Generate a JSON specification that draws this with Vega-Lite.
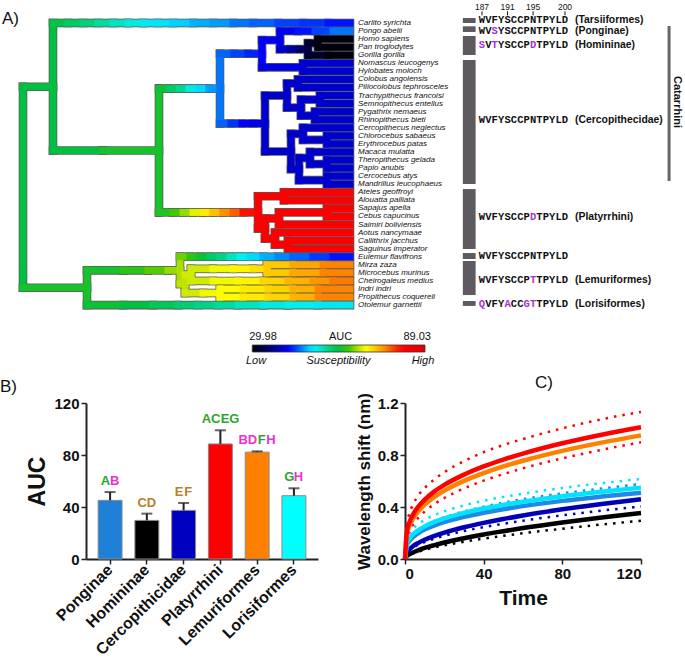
{
"$schema":"https://vega.github.io/schema/vega-lite/v6.json",
"padding":{"top":2,"left":0,"right":0,"bottom":0},
"background":"white",
"bounds":"flush",
"spacing":51,
"config":{"font":"Liberation Sans","view":{"stroke":null},"axis":{"labelFont":"Liberation Sans","titleFont":"Liberation Sans"},"title":{"font":"Liberation Sans"}},
"resolve":{"scale":{"stroke":"independent","fill":"independent","color":"independent"}},
"datasets":{
"tree":[
{"x":0,"x2":0,"y":7.91,"y2":32.84,"v":59.5},
{"x":0,"x2":30,"y":7.91,"y2":7.91,"v":59.5},
{"x":30,"x2":30,"y":0,"y2":15.82,"v":59.5},
{"x":30,"x2":45,"y":0,"y2":0,"v":58.9},
{"x":45,"x2":60,"y":0,"y2":0,"v":57.7},
{"x":60,"x2":75,"y":0,"y2":0,"v":56.6},
{"x":75,"x2":90,"y":0,"y2":0,"v":54.8},
{"x":90,"x2":105,"y":0,"y2":0,"v":53.6},
{"x":105,"x2":120,"y":0,"y2":0,"v":52.4},
{"x":120,"x2":135,"y":0,"y2":0,"v":51.2},
{"x":135,"x2":150,"y":0,"y2":0,"v":50.7},
{"x":150,"x2":170,"y":0,"y2":0,"v":49.5},
{"x":170,"x2":190,"y":0,"y2":0,"v":48.3},
{"x":190,"x2":210,"y":0,"y2":0,"v":47.7},
{"x":210,"x2":230,"y":0,"y2":0,"v":46.5},
{"x":230,"x2":255,"y":0,"y2":0,"v":45.9},
{"x":255,"x2":280,"y":0,"y2":0,"v":44.7},
{"x":280,"x2":305,"y":0,"y2":0,"v":44.2},
{"x":305,"x2":327,"y":0,"y2":0,"v":43.0,"sp":"Carlito syrichta"},
{"x":30,"x2":80,"y":15.82,"y2":15.82,"v":59.5},
{"x":80,"x2":136,"y":15.82,"y2":15.82,"v":60.7},
{"x":136,"x2":136,"y":8.14,"y2":23.5,"v":60.7},
{"x":136,"x2":146,"y":8.14,"y2":8.14,"v":60.1},
{"x":146,"x2":156,"y":8.14,"y2":8.14,"v":57.7},
{"x":156,"x2":166,"y":8.14,"y2":8.14,"v":55.4},
{"x":166,"x2":176,"y":8.14,"y2":8.14,"v":52.4},
{"x":176,"x2":186,"y":8.14,"y2":8.14,"v":50.1},
{"x":186,"x2":197,"y":8.14,"y2":8.14,"v":47.7},
{"x":197,"x2":197,"y":3.81,"y2":12.47,"v":46.5},
{"x":197,"x2":211,"y":3.81,"y2":3.81,"v":45.9},
{"x":211,"x2":225,"y":3.81,"y2":3.81,"v":44.7},
{"x":225,"x2":239,"y":3.81,"y2":3.81,"v":43.6},
{"x":239,"x2":239,"y":2.125,"y2":5.5,"v":42.4},
{"x":239,"x2":257,"y":2.125,"y2":2.125,"v":41.8},
{"x":257,"x2":257,"y":1,"y2":3.25,"v":41.2},
{"x":257,"x2":275,"y":1,"y2":1,"v":41.8},
{"x":275,"x2":292,"y":1,"y2":1,"v":43.0},
{"x":292,"x2":310,"y":1,"y2":1,"v":44.7},
{"x":310,"x2":327,"y":1,"y2":1,"v":46.5,"sp":"Pongo abelii"},
{"x":257,"x2":267,"y":3.25,"y2":3.25,"v":40.0},
{"x":267,"x2":276,"y":3.25,"y2":3.25,"v":37.7},
{"x":276,"x2":285,"y":3.25,"y2":3.25,"v":35.3},
{"x":285,"x2":285,"y":2.5,"y2":4,"v":33.5},
{"x":285,"x2":295,"y":2.5,"y2":2.5,"v":32.3},
{"x":295,"x2":295,"y":2,"y2":3,"v":31.2},
{"x":295,"x2":327,"y":2,"y2":2,"v":30.6,"sp":"Homo sapiens"},
{"x":295,"x2":327,"y":3,"y2":3,"v":30.6,"sp":"Pan troglodytes"},
{"x":285,"x2":305,"y":4,"y2":4,"v":32.3},
{"x":305,"x2":327,"y":4,"y2":4,"v":30.6,"sp":"Gorilla gorilla"},
{"x":239,"x2":280,"y":5.5,"y2":5.5,"v":41.2},
{"x":280,"x2":280,"y":5,"y2":6,"v":40.6},
{"x":280,"x2":327,"y":5,"y2":5,"v":40.3,"sp":"Nomascus leucogenys"},
{"x":280,"x2":327,"y":6,"y2":6,"v":40.3,"sp":"Hylobates moloch"},
{"x":197,"x2":208,"y":12.47,"y2":12.47,"v":45.9},
{"x":208,"x2":219,"y":12.47,"y2":12.47,"v":44.2},
{"x":219,"x2":230,"y":12.47,"y2":12.47,"v":42.4},
{"x":230,"x2":242,"y":12.47,"y2":12.47,"v":41.2},
{"x":242,"x2":242,"y":9,"y2":15.94,"v":40},
{"x":242,"x2":264,"y":9,"y2":9,"v":40},
{"x":264,"x2":264,"y":7.5,"y2":10.5,"v":40},
{"x":264,"x2":275,"y":7.5,"y2":7.5,"v":40},
{"x":275,"x2":275,"y":7,"y2":8,"v":40},
{"x":275,"x2":327,"y":7,"y2":7,"v":40,"sp":"Colobus angolensis"},
{"x":275,"x2":327,"y":8,"y2":8,"v":40,"sp":"Piliocolobus tephrosceles"},
{"x":264,"x2":278,"y":10.5,"y2":10.5,"v":40},
{"x":278,"x2":278,"y":9.5,"y2":11.5,"v":40},
{"x":278,"x2":297,"y":9.5,"y2":9.5,"v":40},
{"x":297,"x2":297,"y":9,"y2":10,"v":40},
{"x":297,"x2":327,"y":9,"y2":9,"v":40,"sp":"Trachypithecus francoisi"},
{"x":297,"x2":327,"y":10,"y2":10,"v":40,"sp":"Semnopithecus entellus"},
{"x":278,"x2":292,"y":11.5,"y2":11.5,"v":40},
{"x":292,"x2":292,"y":11,"y2":12,"v":40},
{"x":292,"x2":327,"y":11,"y2":11,"v":40,"sp":"Pygathrix nemaeus"},
{"x":292,"x2":327,"y":12,"y2":12,"v":40,"sp":"Rhinopithecus bieti"},
{"x":242,"x2":268,"y":15.94,"y2":15.94,"v":40},
{"x":268,"x2":268,"y":13.75,"y2":18.125,"v":40},
{"x":268,"x2":280,"y":13.75,"y2":13.75,"v":40},
{"x":280,"x2":280,"y":13,"y2":14.5,"v":40},
{"x":280,"x2":327,"y":13,"y2":13,"v":40,"sp":"Cercopithecus neglectus"},
{"x":280,"x2":304,"y":14.5,"y2":14.5,"v":40},
{"x":304,"x2":304,"y":14,"y2":15,"v":40},
{"x":304,"x2":327,"y":14,"y2":14,"v":40,"sp":"Chlorocebus sabaeus"},
{"x":304,"x2":327,"y":15,"y2":15,"v":40,"sp":"Erythrocebus patas"},
{"x":268,"x2":276,"y":18.125,"y2":18.125,"v":40},
{"x":276,"x2":276,"y":16.75,"y2":19.5,"v":40},
{"x":276,"x2":287,"y":16.75,"y2":16.75,"v":40},
{"x":287,"x2":287,"y":16,"y2":17.5,"v":40},
{"x":287,"x2":327,"y":16,"y2":16,"v":40,"sp":"Macaca mulatta"},
{"x":287,"x2":304,"y":17.5,"y2":17.5,"v":40},
{"x":304,"x2":304,"y":17,"y2":18,"v":40},
{"x":304,"x2":327,"y":17,"y2":17,"v":40,"sp":"Theropithecus gelada"},
{"x":304,"x2":327,"y":18,"y2":18,"v":40,"sp":"Papio anubis"},
{"x":276,"x2":304,"y":19.5,"y2":19.5,"v":40},
{"x":304,"x2":304,"y":19,"y2":20,"v":40},
{"x":304,"x2":327,"y":19,"y2":19,"v":40,"sp":"Cercocebus atys"},
{"x":304,"x2":327,"y":20,"y2":20,"v":40,"sp":"Mandrillus leucophaeus"},
{"x":136,"x2":150,"y":23.5,"y2":23.5,"v":61.3},
{"x":150,"x2":160,"y":23.5,"y2":23.5,"v":63.1},
{"x":160,"x2":170,"y":23.5,"y2":23.5,"v":65.4},
{"x":170,"x2":180,"y":23.5,"y2":23.5,"v":67.8},
{"x":180,"x2":190,"y":23.5,"y2":23.5,"v":70.1},
{"x":190,"x2":200,"y":23.5,"y2":23.5,"v":72.5},
{"x":200,"x2":210,"y":23.5,"y2":23.5,"v":74.9},
{"x":210,"x2":220,"y":23.5,"y2":23.5,"v":77.2},
{"x":220,"x2":235,"y":23.5,"y2":23.5,"v":80.8},
{"x":235,"x2":235,"y":21.5,"y2":25.5,"v":83},
{"x":235,"x2":261,"y":21.5,"y2":21.5,"v":83},
{"x":261,"x2":261,"y":21,"y2":22,"v":83},
{"x":261,"x2":327,"y":21,"y2":21,"v":83,"sp":"Ateles geoffroyi"},
{"x":261,"x2":327,"y":22,"y2":22,"v":83,"sp":"Alouatta palliata"},
{"x":235,"x2":242,"y":25.5,"y2":25.5,"v":83},
{"x":242,"x2":242,"y":24.25,"y2":26.75,"v":83},
{"x":242,"x2":256,"y":24.25,"y2":24.25,"v":83},
{"x":256,"x2":256,"y":23.5,"y2":25,"v":83},
{"x":256,"x2":304,"y":23.5,"y2":23.5,"v":83},
{"x":304,"x2":304,"y":23,"y2":24,"v":83},
{"x":304,"x2":327,"y":23,"y2":23,"v":83,"sp":"Sapajus apella"},
{"x":304,"x2":327,"y":24,"y2":24,"v":83,"sp":"Cebus capucinus"},
{"x":256,"x2":327,"y":25,"y2":25,"v":83,"sp":"Saimiri boliviensis"},
{"x":242,"x2":252,"y":26.75,"y2":26.75,"v":83},
{"x":252,"x2":252,"y":26,"y2":27.5,"v":83},
{"x":252,"x2":327,"y":26,"y2":26,"v":83,"sp":"Aotus nancymaae"},
{"x":252,"x2":265,"y":27.5,"y2":27.5,"v":83},
{"x":265,"x2":265,"y":27,"y2":28,"v":83},
{"x":265,"x2":327,"y":27,"y2":27,"v":83,"sp":"Callithrix jacchus"},
{"x":265,"x2":327,"y":28,"y2":28,"v":83,"sp":"Saguinus imperator"},
{"x":0,"x2":64,"y":32.84,"y2":32.84,"v":60.7},
{"x":64,"x2":64,"y":30.69,"y2":35,"v":60.7},
{"x":64,"x2":100,"y":35,"y2":35,"v":60.1},
{"x":100,"x2":130,"y":35,"y2":35,"v":59.5},
{"x":130,"x2":155,"y":35,"y2":35,"v":58.3},
{"x":155,"x2":175,"y":35,"y2":35,"v":57.1},
{"x":175,"x2":195,"y":35,"y2":35,"v":56.0},
{"x":195,"x2":215,"y":35,"y2":35,"v":54.8},
{"x":215,"x2":240,"y":35,"y2":35,"v":53.6},
{"x":240,"x2":265,"y":35,"y2":35,"v":52.4},
{"x":265,"x2":295,"y":35,"y2":35,"v":51.8},
{"x":295,"x2":327,"y":35,"y2":35,"v":51.2,"sp":"Otolemur garnettii"},
{"x":64,"x2":100,"y":30.69,"y2":30.69,"v":60.7},
{"x":100,"x2":125,"y":30.69,"y2":30.69,"v":61.9},
{"x":125,"x2":145,"y":30.69,"y2":30.69,"v":63.6},
{"x":145,"x2":157,"y":30.69,"y2":30.69,"v":65.4},
{"x":157,"x2":157,"y":29,"y2":32.375,"v":66.0},
{"x":157,"x2":167,"y":29,"y2":29,"v":64.2},
{"x":167,"x2":177,"y":29,"y2":29,"v":61.9},
{"x":177,"x2":187,"y":29,"y2":29,"v":60.1},
{"x":187,"x2":197,"y":29,"y2":29,"v":57.7},
{"x":197,"x2":207,"y":29,"y2":29,"v":56.0},
{"x":207,"x2":217,"y":29,"y2":29,"v":53.6},
{"x":217,"x2":227,"y":29,"y2":29,"v":51.8},
{"x":227,"x2":240,"y":29,"y2":29,"v":50.1},
{"x":240,"x2":255,"y":29,"y2":29,"v":48.3},
{"x":255,"x2":270,"y":29,"y2":29,"v":47.1},
{"x":270,"x2":290,"y":29,"y2":29,"v":45.9},
{"x":290,"x2":310,"y":29,"y2":29,"v":44.4},
{"x":310,"x2":327,"y":29,"y2":29,"v":43.0,"sp":"Eulemur flavifrons"},
{"x":157,"x2":162,"y":32.375,"y2":32.375,"v":66.6},
{"x":162,"x2":162,"y":31.25,"y2":33.5,"v":66.6},
{"x":162,"x2":168,"y":31.25,"y2":31.25,"v":67.2},
{"x":168,"x2":168,"y":30.5,"y2":32,"v":67.2},
{"x":168,"x2":190,"y":30.5,"y2":30.5,"v":67.2},
{"x":190,"x2":210,"y":30.5,"y2":30.5,"v":68.4},
{"x":210,"x2":230,"y":30.5,"y2":30.5,"v":69.5},
{"x":230,"x2":244,"y":30.5,"y2":30.5,"v":70.7},
{"x":244,"x2":244,"y":30,"y2":31,"v":71.3},
{"x":244,"x2":270,"y":30,"y2":30,"v":71.9},
{"x":270,"x2":300,"y":30,"y2":30,"v":73.7},
{"x":300,"x2":327,"y":30,"y2":30,"v":75.5,"sp":"Mirza zaza"},
{"x":244,"x2":270,"y":31,"y2":31,"v":71.9},
{"x":270,"x2":300,"y":31,"y2":31,"v":73.7},
{"x":300,"x2":327,"y":31,"y2":31,"v":75.5,"sp":"Microcebus murinus"},
{"x":168,"x2":190,"y":32,"y2":32,"v":67.2},
{"x":190,"x2":215,"y":32,"y2":32,"v":68.4},
{"x":215,"x2":240,"y":32,"y2":32,"v":69.5},
{"x":240,"x2":265,"y":32,"y2":32,"v":71.3},
{"x":265,"x2":290,"y":32,"y2":32,"v":73.1},
{"x":290,"x2":310,"y":32,"y2":32,"v":74.6},
{"x":310,"x2":327,"y":32,"y2":32,"v":76.0,"sp":"Cheirogaleus medius"},
{"x":162,"x2":180,"y":33.5,"y2":33.5,"v":67.2},
{"x":180,"x2":197,"y":33.5,"y2":33.5,"v":68.4},
{"x":197,"x2":197,"y":33,"y2":34,"v":69.0},
{"x":197,"x2":220,"y":33,"y2":33,"v":69.0},
{"x":220,"x2":245,"y":33,"y2":33,"v":70.1},
{"x":245,"x2":270,"y":33,"y2":33,"v":71.3},
{"x":270,"x2":295,"y":33,"y2":33,"v":73.1},
{"x":295,"x2":327,"y":33,"y2":33,"v":75.5,"sp":"Indri indri"},
{"x":197,"x2":220,"y":34,"y2":34,"v":69.0},
{"x":220,"x2":245,"y":34,"y2":34,"v":70.1},
{"x":245,"x2":270,"y":34,"y2":34,"v":71.3},
{"x":270,"x2":295,"y":34,"y2":34,"v":73.1},
{"x":295,"x2":327,"y":34,"y2":34,"v":75.5,"sp":"Propithecus coquereli"}
],
"clades":[
{"r1":-0.62,"r2":0.0,"r":-0.33,"lab":"(Tarsiiformes)"},
{"r1":0.41,"r2":1.12,"r":0.99,"lab":"(Ponginae)"},
{"r1":1.61,"r2":3.97,"r":2.73,"lab":"(Homininae)"},
{"r1":4.59,"r2":19.98,"r":12.03,"lab":"(Cercopithecidae)"},
{"r1":20.6,"r2":28.04,"r":24.07,"lab":"(Platyrrhini)"},
{"r1":28.54,"r2":29.28,"r":28.9,"lab":""},
{"r1":29.53,"r2":33.75,"r":31.9,"lab":"(Lemuriformes)"},
{"r1":34.49,"r2":35.1,"r":34.86,"lab":"(Lorisiformes)"}
],
"seq":[
{"r":-0.33,"p":187,"a":"W"},{"r":-0.33,"p":188,"a":"V"},{"r":-0.33,"p":189,"a":"F"},{"r":-0.33,"p":190,"a":"Y"},{"r":-0.33,"p":191,"a":"S"},{"r":-0.33,"p":192,"a":"C"},{"r":-0.33,"p":193,"a":"C"},{"r":-0.33,"p":194,"a":"P"},{"r":-0.33,"p":195,"a":"N"},{"r":-0.33,"p":196,"a":"T"},{"r":-0.33,"p":197,"a":"P"},{"r":-0.33,"p":198,"a":"Y"},{"r":-0.33,"p":199,"a":"L"},{"r":-0.33,"p":200,"a":"D"},
{"r":0.99,"p":187,"a":"W"},{"r":0.99,"p":188,"a":"V"},{"r":0.99,"p":189,"a":"S","m":1},{"r":0.99,"p":190,"a":"Y"},{"r":0.99,"p":191,"a":"S"},{"r":0.99,"p":192,"a":"C"},{"r":0.99,"p":193,"a":"C"},{"r":0.99,"p":194,"a":"P"},{"r":0.99,"p":195,"a":"N"},{"r":0.99,"p":196,"a":"T"},{"r":0.99,"p":197,"a":"P"},{"r":0.99,"p":198,"a":"Y"},{"r":0.99,"p":199,"a":"L"},{"r":0.99,"p":200,"a":"D"},
{"r":2.73,"p":187,"a":"S","m":1},{"r":2.73,"p":188,"a":"V"},{"r":2.73,"p":189,"a":"T","m":1},{"r":2.73,"p":190,"a":"Y"},{"r":2.73,"p":191,"a":"S"},{"r":2.73,"p":192,"a":"C"},{"r":2.73,"p":193,"a":"C"},{"r":2.73,"p":194,"a":"P"},{"r":2.73,"p":195,"a":"D","m":1},{"r":2.73,"p":196,"a":"T"},{"r":2.73,"p":197,"a":"P"},{"r":2.73,"p":198,"a":"Y"},{"r":2.73,"p":199,"a":"L"},{"r":2.73,"p":200,"a":"D"},
{"r":12.03,"p":187,"a":"W"},{"r":12.03,"p":188,"a":"V"},{"r":12.03,"p":189,"a":"F"},{"r":12.03,"p":190,"a":"Y"},{"r":12.03,"p":191,"a":"S"},{"r":12.03,"p":192,"a":"C"},{"r":12.03,"p":193,"a":"C"},{"r":12.03,"p":194,"a":"P"},{"r":12.03,"p":195,"a":"N"},{"r":12.03,"p":196,"a":"T"},{"r":12.03,"p":197,"a":"P"},{"r":12.03,"p":198,"a":"Y"},{"r":12.03,"p":199,"a":"L"},{"r":12.03,"p":200,"a":"D"},
{"r":24.07,"p":187,"a":"W"},{"r":24.07,"p":188,"a":"V"},{"r":24.07,"p":189,"a":"F"},{"r":24.07,"p":190,"a":"Y"},{"r":24.07,"p":191,"a":"S"},{"r":24.07,"p":192,"a":"C"},{"r":24.07,"p":193,"a":"C"},{"r":24.07,"p":194,"a":"P"},{"r":24.07,"p":195,"a":"D","m":1},{"r":24.07,"p":196,"a":"T"},{"r":24.07,"p":197,"a":"P"},{"r":24.07,"p":198,"a":"Y"},{"r":24.07,"p":199,"a":"L"},{"r":24.07,"p":200,"a":"D"},
{"r":28.9,"p":187,"a":"W"},{"r":28.9,"p":188,"a":"V"},{"r":28.9,"p":189,"a":"F"},{"r":28.9,"p":190,"a":"Y"},{"r":28.9,"p":191,"a":"S"},{"r":28.9,"p":192,"a":"C"},{"r":28.9,"p":193,"a":"C"},{"r":28.9,"p":194,"a":"P"},{"r":28.9,"p":195,"a":"N"},{"r":28.9,"p":196,"a":"T"},{"r":28.9,"p":197,"a":"P"},{"r":28.9,"p":198,"a":"Y"},{"r":28.9,"p":199,"a":"L"},{"r":28.9,"p":200,"a":"D"},
{"r":31.9,"p":187,"a":"W"},{"r":31.9,"p":188,"a":"V"},{"r":31.9,"p":189,"a":"F"},{"r":31.9,"p":190,"a":"Y"},{"r":31.9,"p":191,"a":"S"},{"r":31.9,"p":192,"a":"C"},{"r":31.9,"p":193,"a":"C"},{"r":31.9,"p":194,"a":"P"},{"r":31.9,"p":195,"a":"T","m":1},{"r":31.9,"p":196,"a":"T"},{"r":31.9,"p":197,"a":"P"},{"r":31.9,"p":198,"a":"Y"},{"r":31.9,"p":199,"a":"L"},{"r":31.9,"p":200,"a":"D"},
{"r":34.86,"p":187,"a":"Q","m":1},{"r":34.86,"p":188,"a":"V"},{"r":34.86,"p":189,"a":"F"},{"r":34.86,"p":190,"a":"Y"},{"r":34.86,"p":191,"a":"A","m":1},{"r":34.86,"p":192,"a":"C"},{"r":34.86,"p":193,"a":"C"},{"r":34.86,"p":194,"a":"G","m":1},{"r":34.86,"p":195,"a":"T","m":1},{"r":34.86,"p":196,"a":"T"},{"r":34.86,"p":197,"a":"P"},{"r":34.86,"p":198,"a":"Y"},{"r":34.86,"p":199,"a":"L"},{"r":34.86,"p":200,"a":"D"}
],
"ticks":[{"p":187},{"p":191},{"p":195},{"p":200}],
"bars":[
{"g":"Ponginae","mean":45.1,"up":51.5},
{"g":"Homininae","mean":29.7,"up":34.9},
{"g":"Cercopithicidae","mean":37.4,"up":43.1},
{"g":"Platyrrhini","mean":88.5,"up":99.0},
{"g":"Lemuriformes","mean":82.2,"up":82.8},
{"g":"Lorisiformes","mean":48.7,"up":54.4}
],
"letters":[
{"g":"Ponginae","c":"A","j":-1,"s":"g"},{"g":"Ponginae","c":"B","j":1,"s":"m"},
{"g":"Homininae","c":"C","j":-1,"s":"b"},{"g":"Homininae","c":"D","j":1,"s":"b"},
{"g":"Cercopithicidae","c":"E","j":-1,"s":"b"},{"g":"Cercopithicidae","c":"F","j":1,"s":"b"},
{"g":"Platyrrhini","c":"A","j":-3,"s":"g"},{"g":"Platyrrhini","c":"C","j":-1,"s":"g"},{"g":"Platyrrhini","c":"E","j":1,"s":"g"},{"g":"Platyrrhini","c":"G","j":3,"s":"g"},
{"g":"Lemuriformes","c":"B","j":-3,"s":"m"},{"g":"Lemuriformes","c":"D","j":-1,"s":"m"},{"g":"Lemuriformes","c":"F","j":1,"s":"g"},{"g":"Lemuriformes","c":"H","j":3,"s":"m"},
{"g":"Lorisiformes","c":"G","j":-1,"s":"g"},{"g":"Lorisiformes","c":"H","j":1,"s":"m"}
],
"curves":[
{"s":"Homininae","t":0,"v":0},{"s":"Homininae","t":1,"v":0.023},{"s":"Homininae","t":2,"v":0.034},{"s":"Homininae","t":4,"v":0.05},{"s":"Homininae","t":7,"v":0.069},{"s":"Homininae","t":10,"v":0.085},{"s":"Homininae","t":15,"v":0.107},{"s":"Homininae","t":20,"v":0.127},{"s":"Homininae","t":30,"v":0.16},{"s":"Homininae","t":40,"v":0.189},{"s":"Homininae","t":50,"v":0.214},{"s":"Homininae","t":60,"v":0.238},{"s":"Homininae","t":80,"v":0.281},{"s":"Homininae","t":100,"v":0.319},{"s":"Homininae","t":120,"v":0.354},
{"s":"Cercopithecidae","t":0,"v":0},{"s":"Cercopithecidae","t":1,"v":0.052},{"s":"Cercopithecidae","t":2,"v":0.071},{"s":"Cercopithecidae","t":4,"v":0.098},{"s":"Cercopithecidae","t":7,"v":0.126},{"s":"Cercopithecidae","t":10,"v":0.148},{"s":"Cercopithecidae","t":15,"v":0.178},{"s":"Cercopithecidae","t":20,"v":0.203},{"s":"Cercopithecidae","t":30,"v":0.244},{"s":"Cercopithecidae","t":40,"v":0.278},{"s":"Cercopithecidae","t":50,"v":0.308},{"s":"Cercopithecidae","t":60,"v":0.335},{"s":"Cercopithecidae","t":80,"v":0.382},{"s":"Cercopithecidae","t":100,"v":0.423},{"s":"Cercopithecidae","t":120,"v":0.459},
{"s":"Ponginae","t":0,"v":0},{"s":"Ponginae","t":1,"v":0.107},{"s":"Ponginae","t":2,"v":0.134},{"s":"Ponginae","t":4,"v":0.168},{"s":"Ponginae","t":7,"v":0.202},{"s":"Ponginae","t":10,"v":0.227},{"s":"Ponginae","t":15,"v":0.259},{"s":"Ponginae","t":20,"v":0.284},{"s":"Ponginae","t":30,"v":0.324},{"s":"Ponginae","t":40,"v":0.356},{"s":"Ponginae","t":50,"v":0.383},{"s":"Ponginae","t":60,"v":0.407},{"s":"Ponginae","t":80,"v":0.447},{"s":"Ponginae","t":100,"v":0.48},{"s":"Ponginae","t":120,"v":0.51},
{"s":"Lorisiformes","t":0,"v":0},{"s":"Lorisiformes","t":1,"v":0.121},{"s":"Lorisiformes","t":2,"v":0.151},{"s":"Lorisiformes","t":4,"v":0.188},{"s":"Lorisiformes","t":7,"v":0.224},{"s":"Lorisiformes","t":10,"v":0.251},{"s":"Lorisiformes","t":15,"v":0.285},{"s":"Lorisiformes","t":20,"v":0.312},{"s":"Lorisiformes","t":30,"v":0.355},{"s":"Lorisiformes","t":40,"v":0.388},{"s":"Lorisiformes","t":50,"v":0.416},{"s":"Lorisiformes","t":60,"v":0.441},{"s":"Lorisiformes","t":80,"v":0.483},{"s":"Lorisiformes","t":100,"v":0.518},{"s":"Lorisiformes","t":120,"v":0.549},
{"s":"Lemuriformes","t":0,"v":0},{"s":"Lemuriformes","t":1,"v":0.195},{"s":"Lemuriformes","t":2,"v":0.245},{"s":"Lemuriformes","t":4,"v":0.308},{"s":"Lemuriformes","t":7,"v":0.371},{"s":"Lemuriformes","t":10,"v":0.418},{"s":"Lemuriformes","t":15,"v":0.478},{"s":"Lemuriformes","t":20,"v":0.526},{"s":"Lemuriformes","t":30,"v":0.601},{"s":"Lemuriformes","t":40,"v":0.661},{"s":"Lemuriformes","t":50,"v":0.712},{"s":"Lemuriformes","t":60,"v":0.756},{"s":"Lemuriformes","t":80,"v":0.832},{"s":"Lemuriformes","t":100,"v":0.895},{"s":"Lemuriformes","t":120,"v":0.951},
{"s":"Platyrrhini","t":0,"v":0},{"s":"Platyrrhini","t":1,"v":0.218},{"s":"Platyrrhini","t":2,"v":0.272},{"s":"Platyrrhini","t":4,"v":0.34},{"s":"Platyrrhini","t":7,"v":0.407},{"s":"Platyrrhini","t":10,"v":0.456},{"s":"Platyrrhini","t":15,"v":0.52},{"s":"Platyrrhini","t":20,"v":0.57},{"s":"Platyrrhini","t":30,"v":0.649},{"s":"Platyrrhini","t":40,"v":0.712},{"s":"Platyrrhini","t":50,"v":0.765},{"s":"Platyrrhini","t":60,"v":0.811},{"s":"Platyrrhini","t":80,"v":0.89},{"s":"Platyrrhini","t":100,"v":0.956},{"s":"Platyrrhini","t":120,"v":1.013}
],
"bands":[
{"s":"Homininae","b":"lo","t":0,"v":0},{"s":"Homininae","b":"lo","t":1,"v":0.019},{"s":"Homininae","b":"lo","t":2,"v":0.028},{"s":"Homininae","b":"lo","t":4,"v":0.042},{"s":"Homininae","b":"lo","t":7,"v":0.057},{"s":"Homininae","b":"lo","t":10,"v":0.071},{"s":"Homininae","b":"lo","t":15,"v":0.089},{"s":"Homininae","b":"lo","t":20,"v":0.105},{"s":"Homininae","b":"lo","t":30,"v":0.133},{"s":"Homininae","b":"lo","t":40,"v":0.157},{"s":"Homininae","b":"lo","t":50,"v":0.178},{"s":"Homininae","b":"lo","t":60,"v":0.198},{"s":"Homininae","b":"lo","t":80,"v":0.233},{"s":"Homininae","b":"lo","t":100,"v":0.265},{"s":"Homininae","b":"lo","t":120,"v":0.294},
{"s":"Cercopithecidae","b":"lo","t":0,"v":0},{"s":"Cercopithecidae","b":"lo","t":1,"v":0.046},{"s":"Cercopithecidae","b":"lo","t":2,"v":0.062},{"s":"Cercopithecidae","b":"lo","t":4,"v":0.086},{"s":"Cercopithecidae","b":"lo","t":7,"v":0.111},{"s":"Cercopithecidae","b":"lo","t":10,"v":0.13},{"s":"Cercopithecidae","b":"lo","t":15,"v":0.157},{"s":"Cercopithecidae","b":"lo","t":20,"v":0.179},{"s":"Cercopithecidae","b":"lo","t":30,"v":0.215},{"s":"Cercopithecidae","b":"lo","t":40,"v":0.245},{"s":"Cercopithecidae","b":"lo","t":50,"v":0.271},{"s":"Cercopithecidae","b":"lo","t":60,"v":0.295},{"s":"Cercopithecidae","b":"lo","t":80,"v":0.336},{"s":"Cercopithecidae","b":"lo","t":100,"v":0.372},{"s":"Cercopithecidae","b":"lo","t":120,"v":0.404},
{"s":"Ponginae","b":"hi","t":0,"v":0},{"s":"Ponginae","b":"hi","t":1,"v":0.121},{"s":"Ponginae","b":"hi","t":2,"v":0.151},{"s":"Ponginae","b":"hi","t":4,"v":0.19},{"s":"Ponginae","b":"hi","t":7,"v":0.228},{"s":"Ponginae","b":"hi","t":10,"v":0.257},{"s":"Ponginae","b":"hi","t":15,"v":0.293},{"s":"Ponginae","b":"hi","t":20,"v":0.321},{"s":"Ponginae","b":"hi","t":30,"v":0.366},{"s":"Ponginae","b":"hi","t":40,"v":0.402},{"s":"Ponginae","b":"hi","t":50,"v":0.433},{"s":"Ponginae","b":"hi","t":60,"v":0.46},{"s":"Ponginae","b":"hi","t":80,"v":0.505},{"s":"Ponginae","b":"hi","t":100,"v":0.542},{"s":"Ponginae","b":"hi","t":120,"v":0.577},
{"s":"Lorisiformes","b":"hi","t":0,"v":0},{"s":"Lorisiformes","b":"hi","t":1,"v":0.155},{"s":"Lorisiformes","b":"hi","t":2,"v":0.19},{"s":"Lorisiformes","b":"hi","t":4,"v":0.231},{"s":"Lorisiformes","b":"hi","t":7,"v":0.272},{"s":"Lorisiformes","b":"hi","t":10,"v":0.3},{"s":"Lorisiformes","b":"hi","t":15,"v":0.338},{"s":"Lorisiformes","b":"hi","t":20,"v":0.367},{"s":"Lorisiformes","b":"hi","t":30,"v":0.412},{"s":"Lorisiformes","b":"hi","t":40,"v":0.448},{"s":"Lorisiformes","b":"hi","t":50,"v":0.477},{"s":"Lorisiformes","b":"hi","t":60,"v":0.502},{"s":"Lorisiformes","b":"hi","t":80,"v":0.546},{"s":"Lorisiformes","b":"hi","t":100,"v":0.583},{"s":"Lorisiformes","b":"hi","t":120,"v":0.615},
{"s":"Platyrrhini","b":"lo","t":0,"v":0},{"s":"Platyrrhini","b":"lo","t":1,"v":0.159},{"s":"Platyrrhini","b":"lo","t":2,"v":0.204},{"s":"Platyrrhini","b":"lo","t":4,"v":0.262},{"s":"Platyrrhini","b":"lo","t":7,"v":0.321},{"s":"Platyrrhini","b":"lo","t":10,"v":0.365},{"s":"Platyrrhini","b":"lo","t":15,"v":0.423},{"s":"Platyrrhini","b":"lo","t":20,"v":0.469},{"s":"Platyrrhini","b":"lo","t":30,"v":0.543},{"s":"Platyrrhini","b":"lo","t":40,"v":0.603},{"s":"Platyrrhini","b":"lo","t":50,"v":0.653},{"s":"Platyrrhini","b":"lo","t":60,"v":0.698},{"s":"Platyrrhini","b":"lo","t":80,"v":0.774},{"s":"Platyrrhini","b":"lo","t":100,"v":0.84},{"s":"Platyrrhini","b":"lo","t":120,"v":0.898},
{"s":"Platyrrhini","b":"hi","t":0,"v":0},{"s":"Platyrrhini","b":"hi","t":1,"v":0.278},{"s":"Platyrrhini","b":"hi","t":2,"v":0.34},{"s":"Platyrrhini","b":"hi","t":4,"v":0.417},{"s":"Platyrrhini","b":"hi","t":7,"v":0.494},{"s":"Platyrrhini","b":"hi","t":10,"v":0.546},{"s":"Platyrrhini","b":"hi","t":15,"v":0.613},{"s":"Platyrrhini","b":"hi","t":20,"v":0.668},{"s":"Platyrrhini","b":"hi","t":30,"v":0.753},{"s":"Platyrrhini","b":"hi","t":40,"v":0.822},{"s":"Platyrrhini","b":"hi","t":50,"v":0.877},{"s":"Platyrrhini","b":"hi","t":60,"v":0.923},{"s":"Platyrrhini","b":"hi","t":80,"v":1.005},{"s":"Platyrrhini","b":"hi","t":100,"v":1.075},{"s":"Platyrrhini","b":"hi","t":120,"v":1.131}
]
},
"vconcat":[
{
"width":599,"height":291.5,
"title":{"text":"A)","anchor":"start","frame":"group","orient":"top","offset":0,"dx":-84,"dy":39,"fontSize":17,"fontWeight":"normal","baseline":"alphabetic","color":"#111"},
"resolve":{"scale":{"x":"independent"}},
"layer":[
{"data":{"name":"tree"},"mark":{"type":"rule","strokeWidth":8.6,"strokeCap":"square","color":"#5a5a5a"},
"encoding":{"x":{"field":"x","type":"quantitative","scale":{"domain":[63,662],"nice":false,"zero":false},"axis":null},"x2":{"field":"x2"},"y":{"field":"y","type":"quantitative","scale":{"domain":[-2.605,33.56],"reverse":true,"nice":false,"zero":false},"axis":null},"y2":{"field":"y2"}}},
{"data":{"name":"tree"},"mark":{"type":"rule","strokeWidth":7,"strokeCap":"square"},
"encoding":{"x":{"field":"x","type":"quantitative","scale":{"domain":[63,662],"nice":false,"zero":false},"axis":null},"x2":{"field":"x2"},"y":{"field":"y","type":"quantitative","scale":{"domain":[-2.605,33.56],"reverse":true,"nice":false,"zero":false},"axis":null},"y2":{"field":"y2"},
"stroke":{"field":"v","type":"quantitative","legend":null,"scale":{"type":"linear","domain":[29.98,34.11,38.84,42.38,45.92,49.47,51.83,55.37,59.51,63.05,66.59,68.95,72.5,76.04,79.58,81.94,89.03],"range":["#000000","#000050","#0000b4","#0000ff","#0064ff","#00d2ff","#00f0f0","#00d890","#00c040","#40c800","#c0e400","#ffff00","#ffbe00","#ff7800","#ff2000","#ff0000","#dc0000"],"interpolate":"rgb"}}}},
{"data":{"name":"tree"},"transform":[{"filter":"datum.sp"}],"mark":{"type":"text","align":"left","baseline":"middle","dx":8,"fontSize":8,"fontStyle":"italic","color":"#111"},
"encoding":{"x":{"field":"x2","type":"quantitative","scale":{"domain":[63,662],"nice":false,"zero":false},"axis":null},"y":{"field":"y","type":"quantitative","scale":{"domain":[-2.605,33.56],"reverse":true,"nice":false,"zero":false},"axis":null},"text":{"field":"sp"}}},
{"data":{"name":"clades"},"mark":{"type":"rect","color":"#5e5a60"},
"encoding":{"x":{"datum":184,"type":"quantitative","scale":{"domain":[124.98,218.795],"nice":false,"zero":false},"axis":null},"x2":{"datum":186},"y":{"field":"r1","type":"quantitative","scale":{"domain":[-2.605,33.56],"reverse":true,"nice":false,"zero":false},"axis":null},"y2":{"field":"r2"}}},
{"data":{"name":"seq"},"mark":{"type":"text","font":"Liberation Mono","fontWeight":"bold","fontSize":10.5,"align":"center","baseline":"middle"},
"encoding":{"x":{"field":"p","type":"quantitative","scale":{"domain":[124.98,218.795],"nice":false,"zero":false},"axis":null},"y":{"field":"r","type":"quantitative","scale":{"domain":[-2.605,33.56],"reverse":true,"nice":false,"zero":false},"axis":null},"text":{"field":"a"},
"color":{"condition":{"test":"datum.m","value":"#a334d6"},"value":"#111111"}}},
{"data":{"name":"clades"},"mark":{"type":"text","align":"left","baseline":"middle","dx":10,"fontSize":10.4,"fontWeight":"bold","color":"#111"},
"encoding":{"x":{"datum":200,"type":"quantitative","scale":{"domain":[124.98,218.795],"nice":false,"zero":false},"axis":null},"y":{"field":"r","type":"quantitative","scale":{"domain":[-2.605,33.56],"reverse":true,"nice":false,"zero":false},"axis":null},"text":{"field":"lab"}}},
{"data":{"name":"ticks"},"mark":{"type":"text","fontSize":8.5,"align":"center","baseline":"middle","color":"#111"},
"encoding":{"x":{"field":"p","type":"quantitative","scale":{"domain":[124.98,218.795],"nice":false,"zero":false},"axis":null},"y":{"datum":-1.99,"type":"quantitative","scale":{"domain":[-2.605,33.56],"reverse":true,"nice":false,"zero":false},"axis":null},"text":{"field":"p"}}},
{"data":{"name":"ticks"},"mark":{"type":"rule","strokeWidth":1,"color":"#111"},
"encoding":{"x":{"field":"p","type":"quantitative","scale":{"domain":[124.98,218.795],"nice":false,"zero":false},"axis":null},"y":{"datum":-1.45,"type":"quantitative","scale":{"domain":[-2.605,33.56],"reverse":true,"nice":false,"zero":false},"axis":null},"y2":{"datum":-0.95}}},
{"data":{"values":[{"g":"Catarrhini"}]},"mark":{"type":"rule","strokeWidth":3,"color":"#666"},
"encoding":{"x":{"datum":216.3,"type":"quantitative","scale":{"domain":[124.98,218.795],"nice":false,"zero":false},"axis":null},"y":{"datum":0.37,"type":"quantitative","scale":{"domain":[-2.605,33.56],"reverse":true,"nice":false,"zero":false},"axis":null},"y2":{"datum":19.6}}},
{"data":{"values":[{"g":"Catarrhini"}]},"mark":{"type":"text","angle":90,"fontSize":11,"fontWeight":"bold","align":"center","baseline":"middle","color":"#111"},
"encoding":{"x":{"datum":217.6,"type":"quantitative","scale":{"domain":[124.98,218.795],"nice":false,"zero":false},"axis":null},"y":{"datum":9.8,"type":"quantitative","scale":{"domain":[-2.605,33.56],"reverse":true,"nice":false,"zero":false},"axis":null},"text":{"field":"g"}}}
]
},
{
"width":599,"height":7,
"data":{"values":[{"lo":29.98,"hi":89.03}]},
"resolve":{"axis":{"x":"independent"}},
"layer":[
{"mark":{"type":"rect","stroke":"#333","strokeWidth":0.8,"fill":{"gradient":"linear","x1":0,"x2":1,"y1":0,"y2":0,"stops":[{"offset":0,"color":"#000000"},{"offset":0.07,"color":"#000050"},{"offset":0.15,"color":"#0000b4"},{"offset":0.21,"color":"#0000ff"},{"offset":0.27,"color":"#0064ff"},{"offset":0.33,"color":"#00d2ff"},{"offset":0.37,"color":"#00f0f0"},{"offset":0.43,"color":"#00d890"},{"offset":0.5,"color":"#00c040"},{"offset":0.56,"color":"#40c800"},{"offset":0.62,"color":"#c0e400"},{"offset":0.66,"color":"#ffff00"},{"offset":0.72,"color":"#ffbe00"},{"offset":0.78,"color":"#ff7800"},{"offset":0.84,"color":"#ff2000"},{"offset":0.88,"color":"#ff0000"},{"offset":1,"color":"#dc0000"}]}},
"encoding":{"x":{"field":"lo","type":"quantitative","scale":{"domain":[-26.88,177.93],"nice":false,"zero":false},
"axis":{"orient":"top","values":[33.47,59.97,86.19],"labelExpr":"datum.value < 40 ? '29.98' : (datum.value > 80 ? '89.03' : 'AUC')","ticks":false,"domain":false,"grid":false,"title":null,"labelPadding":4,"labelFontSize":11,"labelColor":"#111","labelFlush":false,"labelOverlap":false,"labelBound":false}},
"x2":{"field":"hi"},
"y":{"datum":0,"type":"quantitative","scale":{"domain":[0,1],"nice":false,"zero":false},"axis":null},"y2":{"datum":1}}},
{"mark":{"type":"rect","opacity":0},
"encoding":{"x":{"field":"lo","type":"quantitative","scale":{"domain":[-26.88,177.93],"nice":false,"zero":false},
"axis":{"orient":"bottom","values":[31.07,59.28,88.17],"labelExpr":"datum.value < 40 ? 'Low' : (datum.value > 80 ? 'High' : 'Susceptibility')","labelFontStyle":"italic","ticks":false,"domain":false,"grid":false,"title":null,"labelPadding":2,"labelFontSize":11,"labelColor":"#111","labelFlush":false,"labelOverlap":false,"labelBound":false}},
"x2":{"field":"hi"},
"y":{"datum":0,"type":"quantitative","scale":{"domain":[0,1],"nice":false,"zero":false},"axis":null},"y2":{"datum":1}}}
]
},
{
"hconcat":[
{
"width":232,"height":156,
"title":{"text":"B)","anchor":"start","frame":"group","dx":-86,"dy":22.5,"offset":10,"fontSize":17,"fontWeight":"normal","baseline":"alphabetic","color":"#111"},
"layer":[
{"data":{"name":"bars"},"mark":{"type":"bar","stroke":"#8a8a8a","strokeWidth":1},
"encoding":{"x":{"field":"g","type":"nominal","sort":null,"scale":{"domain":["Ponginae","Homininae","Cercopithicidae","Platyrrhini","Lemuriformes","Lorisiformes"],"paddingInner":0.35,"paddingOuter":0.33},
"axis":{"title":null,"labelAngle":-45,"labelAlign":"right","labelBaseline":"middle","labelFontSize":16,"labelFontWeight":"bold","labelColor":"#111","tickSize":5,"tickWidth":1.5,"tickColor":"#222","domainColor":"#222","domainWidth":2,"labelPadding":3}},
"y":{"field":"mean","type":"quantitative","scale":{"domain":[0,120],"nice":false},
"axis":{"title":"AUC","values":[0,40,80,120],"titleFontSize":23,"titleFontWeight":"bold","titleColor":"#111","titlePadding":4,"labelFontSize":15,"labelFontWeight":"bold","labelColor":"#111","tickSize":5,"tickWidth":1.5,"tickColor":"#222","domainWidth":2,"domainColor":"#222","grid":false,"labelPadding":2}},
"fill":{"field":"g","type":"nominal","legend":null,"scale":{"domain":["Ponginae","Homininae","Cercopithicidae","Platyrrhini","Lemuriformes","Lorisiformes"],"range":["#1f80d8","#000000","#0000c0","#ff0000","#ff8000","#00ffff"]}}}},
{"data":{"name":"bars"},"mark":{"type":"rule","strokeWidth":2,"color":"#222"},
"encoding":{"x":{"field":"g","type":"nominal","sort":null},"y":{"field":"mean","type":"quantitative"},"y2":{"field":"up"}}},
{"data":{"name":"bars"},"mark":{"type":"tick","size":11,"thickness":2,"color":"#222"},
"encoding":{"x":{"field":"g","type":"nominal","sort":null},"y":{"field":"up","type":"quantitative"}}},
{"data":{"name":"letters"},"transform":[{"lookup":"g","from":{"data":{"name":"bars"},"key":"g","fields":["up"]}},{"filter":"datum.j == -3"}],
"mark":{"type":"text","fontSize":13,"fontWeight":"bold","align":"center","baseline":"alphabetic","dy":-7,"dx":-13.9},
"encoding":{"x":{"field":"g","type":"nominal","sort":null},"y":{"field":"up","type":"quantitative"},"text":{"field":"c"},
"color":{"condition":[{"test":"datum.s === 'm'","value":"#ee33cc"},{"test":"datum.s === 'b'","value":"#b8802c"}],"value":"#2ea52e"}}},
{"data":{"name":"letters"},"transform":[{"lookup":"g","from":{"data":{"name":"bars"},"key":"g","fields":["up"]}},{"filter":"datum.j == -1"}],
"mark":{"type":"text","fontSize":13,"fontWeight":"bold","align":"center","baseline":"alphabetic","dy":-7,"dx":-4.6},
"encoding":{"x":{"field":"g","type":"nominal","sort":null},"y":{"field":"up","type":"quantitative"},"text":{"field":"c"},
"color":{"condition":[{"test":"datum.s === 'm'","value":"#ee33cc"},{"test":"datum.s === 'b'","value":"#b8802c"}],"value":"#2ea52e"}}},
{"data":{"name":"letters"},"transform":[{"lookup":"g","from":{"data":{"name":"bars"},"key":"g","fields":["up"]}},{"filter":"datum.j == 1"}],
"mark":{"type":"text","fontSize":13,"fontWeight":"bold","align":"center","baseline":"alphabetic","dy":-7,"dx":4.6},
"encoding":{"x":{"field":"g","type":"nominal","sort":null},"y":{"field":"up","type":"quantitative"},"text":{"field":"c"},
"color":{"condition":[{"test":"datum.s === 'm'","value":"#ee33cc"},{"test":"datum.s === 'b'","value":"#b8802c"}],"value":"#2ea52e"}}},
{"data":{"name":"letters"},"transform":[{"lookup":"g","from":{"data":{"name":"bars"},"key":"g","fields":["up"]}},{"filter":"datum.j == 3"}],
"mark":{"type":"text","fontSize":13,"fontWeight":"bold","align":"center","baseline":"alphabetic","dy":-7,"dx":13.9},
"encoding":{"x":{"field":"g","type":"nominal","sort":null},"y":{"field":"up","type":"quantitative"},"text":{"field":"c"},
"color":{"condition":[{"test":"datum.s === 'm'","value":"#ee33cc"},{"test":"datum.s === 'b'","value":"#b8802c"}],"value":"#2ea52e"}}}
]
},
{
"width":236,"height":156,
"title":{"text":"C)","anchor":"start","frame":"group","dx":130,"dy":22.5,"offset":10,"fontSize":17,"fontWeight":"normal","baseline":"alphabetic","color":"#111"},
"layer":[
{"data":{"name":"bands"},"mark":{"type":"line","strokeWidth":2.5,"strokeDash":[2.5,6],"interpolate":"monotone"},
"encoding":{"x":{"field":"t","type":"quantitative","scale":{"domain":[0,120],"nice":false},
"axis":{"title":"Time","values":[0,40,80,120],"titleFontSize":21,"titleFontWeight":"bold","titleColor":"#111","titlePadding":6,"labelFontSize":15,"labelFontWeight":"bold","labelColor":"#111","tickSize":5,"tickWidth":1.5,"tickColor":"#222","domainWidth":2,"domainColor":"#222","grid":false,"labelPadding":2}},
"y":{"field":"v","type":"quantitative","scale":{"domain":[0,1.2],"nice":false},
"axis":{"title":"Wavelength shift (nm)","values":[0,0.4,0.8,1.2],"format":".1f","titleFontSize":17,"titleFontWeight":"bold","titleColor":"#111","titlePadding":4,"labelFontSize":15,"labelFontWeight":"bold","labelColor":"#111","tickSize":5,"tickWidth":1.5,"tickColor":"#222","domainWidth":2,"domainColor":"#222","grid":false,"labelPadding":2}},
"stroke":{"field":"s","type":"nominal","legend":null,"scale":{"domain":["Platyrrhini","Lemuriformes","Lorisiformes","Ponginae","Cercopithecidae","Homininae"],"range":["#ff0000","#ff8000","#00e5ff","#1e8ae6","#0000b4","#000000"]}},
"detail":{"field":"b"}}},
{"data":{"name":"curves"},"mark":{"type":"line","strokeWidth":4.5,"interpolate":"monotone"},
"encoding":{"x":{"field":"t","type":"quantitative"},"y":{"field":"v","type":"quantitative"},
"stroke":{"field":"s","type":"nominal","legend":null}}}
]
}
],
"spacing":37,
"resolve":{"scale":{"fill":"independent","stroke":"independent","color":"independent"}}
}
]
}
